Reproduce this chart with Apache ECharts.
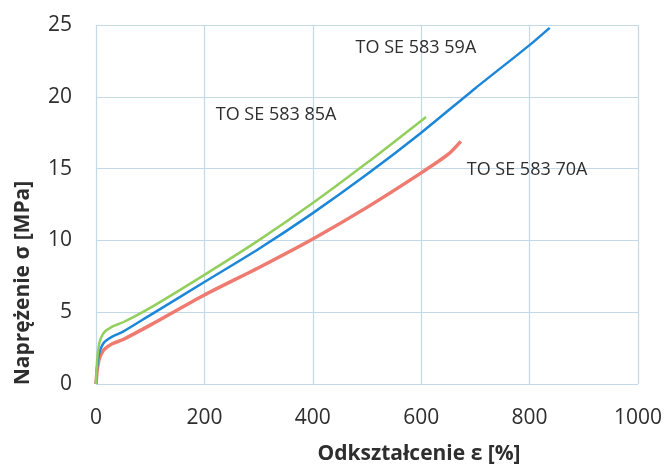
<!DOCTYPE html>
<html>
<head>
<meta charset="utf-8">
<script src="https://cdn.jsdelivr.net/npm/echarts@6/dist/echarts.min.js"></script>
<style>
html,body{margin:0;padding:0;background:#fff;}
#chart{width:669px;height:465px;}
</style>
</head>
<body>
<div id="chart"></div>
<script>
// ---- data ----
const seriesNames = ['TO SE 583 70A', 'TO SE 583 59A', 'TO SE 583 85A'];

const redX = [0, 2, 5, 8, 15, 30, 50, 100, 200, 300, 400, 500, 600, 650, 673];
const redY = [0, 0.9, 1.6, 1.95, 2.4, 2.8, 3.1, 4.1, 6.2, 8.1, 10.1, 12.3, 14.7, 16.0, 16.9];

const blueX = [0, 2, 5, 8, 15, 30, 50, 100, 200, 300, 400, 500, 600, 700, 800, 837];
const blueY = [0, 1.2, 2.0, 2.4, 2.9, 3.3, 3.65, 4.8, 7.1, 9.4, 11.9, 14.6, 17.5, 20.6, 23.6, 24.8];

const greenX = [0, 2, 5, 8, 15, 30, 50, 100, 200, 300, 400, 500, 609];
const greenY = [0, 1.6, 2.6, 3.1, 3.6, 4.0, 4.3, 5.3, 7.6, 10.0, 12.6, 15.4, 18.6];

// label anchor positions (data units)
const labelAnchors = [[684, 14.9], [479, 23.4], [221, 18.76]];

const xTicks = [0, 200, 400, 600, 800, 1000];
const yTicks = [0, 5, 10, 15, 20, 25];

const xTitle = 'Odkształcenie ε [%]';
const yTitle = 'Naprężenie σ [MPa]';

// ---- chart ----
const zip = (xs, ys) => xs.map((x, i) => [x, ys[i]]);
const colors = ['#ef7b70', '#1c87d8', '#92cf5c'];
const widths = [3.5, 2.5, 2.5];
const dataSets = [zip(redX, redY), zip(blueX, blueY), zip(greenX, greenY)];

const gridColor = '#c3d9e8';
const textColor = '#2e2e2e';

const chart = echarts.init(document.getElementById('chart'), null, {renderer: 'canvas'});
chart.setOption({
  animation: false,
  backgroundColor: '#ffffff',
  grid: {left: 96, right: 31, top: 25, bottom: 81, containLabel: false},
  xAxis: {
    type: 'value', min: xTicks[0], max: xTicks[xTicks.length - 1], interval: 200,
    axisLine: {show: false}, axisTick: {show: false},
    splitLine: {show: true, lineStyle: {color: gridColor, width: 1.2}},
    axisLabel: {color: textColor, fontFamily: 'Open Sans', fontSize: 21, margin: 24,
      formatter: v => String(v)}
  },
  yAxis: {
    type: 'value', min: yTicks[0], max: yTicks[yTicks.length - 1], interval: 5,
    axisLine: {show: false}, axisTick: {show: false},
    splitLine: {show: true, lineStyle: {color: gridColor, width: 1.2}},
    axisLabel: {color: textColor, fontFamily: 'Open Sans', fontSize: 21, margin: 24,
      formatter: v => String(v)}
  },
  graphic: [
    {type: 'text', x: 419, y: 454, style: {text: xTitle, align: 'center', verticalAlign: 'middle',
      font: 'bold 21px "Open Sans"', fill: textColor}},
    {type: 'text', x: 23, y: 283, rotation: Math.PI / 2, style: {text: yTitle, align: 'center', verticalAlign: 'middle',
      font: 'bold 21px "Open Sans"', fill: textColor}}
  ],
  series: dataSets.map((d, i) => ({
    type: 'line', name: seriesNames[i], data: d, showSymbol: false, symbol: 'none',
    smooth: 0.25,
    lineStyle: {color: colors[i], width: widths[i]},
    itemStyle: {color: colors[i]},
    z: 2 + i,
    markPoint: {
      symbol: 'circle', symbolSize: 0,
      label: {show: true, position: 'right', distance: 0, formatter: seriesNames[i],
        color: textColor, fontFamily: 'Open Sans', fontSize: 18},
      data: [{coord: labelAnchors[i]}]
    }
  }))
});
</script>
</body>
</html>
